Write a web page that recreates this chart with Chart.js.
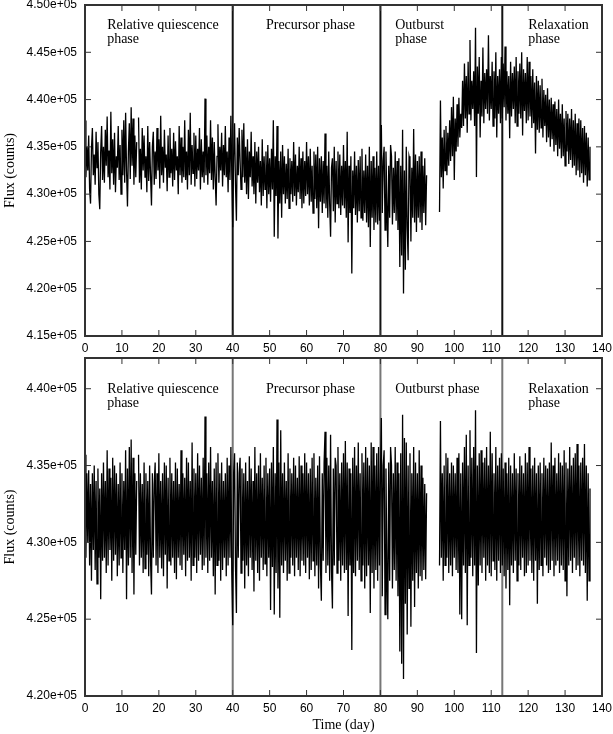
<!DOCTYPE html>
<html>
<head>
<meta charset="utf-8">
<script src="https://cdn.jsdelivr.net/npm/chart.js@4.4.1/dist/chart.umd.min.js"></script>
<style>
  html, body { margin: 0; padding: 0; background: #fff; }
  #wrap { position: relative; width: 613px; height: 734px; }
  canvas { position: absolute; left: 0; }
</style>
</head>
<body>
<div id="wrap">
  <canvas id="topChart" width="613" height="357" style="top:0"></canvas>
  <canvas id="bottomChart" width="613" height="377" style="top:357px"></canvas>
</div>
<script>
// light curve sampling (days)
const startDay = 0;
const cadence = 0.25;
const phaseBounds = [40, 80, 113];
const xTicks = [0, 140, 10];

// flux in units of 100 counts, one value per cadence, null = no data
const fluxRaw = [
  4378,4318,4350,4325, 4362,4305,4290,4348, 4370,4320,4342,4310, 4366,4328,4355,4300, 4284,4345,4372,4315,
  4350,4312,4368,4330, 4382,4318,4346,4305, 4387,4322,4358,4310, 4365,4302,4340,4328, 4372,4315,4352,4300,
  4368,4320,4378,4312, 4386,4325,4287,4345, 4375,4316,4392,4330, 4380,4310,4362,4318, 4355,null,4381,4312,
  4348,4305,4370,4325, 4362,4318,4340,4302, 4372,4314,4355,4320, 4288,4350,4366,4310, 4345,4316,4370,4325,
  4358,4306,4383,4320, 4350,4312,4368,4328, 4342,4303,4362,4318, 4370,4322,4348,4308, 4365,4315,4356,4325,
  4340,4300,4372,4320, 4360,4312,4350,4318, 4378,4315,4345,4305, 4368,4320,4386,4310, 4352,4322,4365,4308,
  4362,4316,4348,4325, 4370,4305,4358,4318, 4345,4312,4401,4320, 4362,4310,4350,4322, 4378,4315,4360,4305,
  4355,4318,4288,4340, 4374,4312,4350,4325, 4365,4308,4352,4320, 4372,4318,4345,4302, 4360,4315,4383,4322,
  // precursor
  4265,4340,4375,4310, 4272,4360,4320,4370, 4335,4305,4368,4318, 4375,4312,4350,4300, 4358,4295,4345,4318,
  4366,4308,4340,4300, 4355,4290,4345,4312, 4350,4302,4335,4288, 4358,4298,4340,4305, 4345,4285,4352,4300,
  4338,4292,4348,4305, 4378,4255,4340,4298, 4372,4253,4335,4290, 4345,4275,4352,4300, 4340,4290,4332,4295,
  4348,4285,4338,4300, 4335,4292,4355,4298, 4342,4288,4330,4302, 4350,4295,4338,4285, 4345,4290,4335,4298,
  4355,4300,4340,4288, 4348,4292,4330,4280, 4345,4295,4342,4285, 4350,4264,4338,4292, 4340,4280,4335,4290,
  4364,4285,4330,4275, 4345,4290,4255,4328, 4338,4282,4350,4270, 4335,4290,4345,4285, 4342,4278,4330,4288,
  4352,4285,4335,4275, 4366,4249,4330,4280, 4340,4216,4325,4285, 4345,4278,4330,4270, 4336,4282,4340,4275,
  4348,4272,4325,4280, 4342,4270,4330,4265, 4350,4244,4335,4275, 4340,4262,4328,4270, 4345,4268,4330,4272,
  // outburst
  4340,4373,4280,4335, 4350,4262,4345,4290, 4244,4330,4275,4352, 4340,4268,4328,4280, 4345,4272,4335,4262,
  4338,4223,4330,4235, 4368,4195,4325,4220, 4350,4265,4230,4340, 4335,4250,4328,4275, 4369,4270,4342,4260,
  4335,4275,4340,4270, 4345,4262,4330,4280, 4338,4267,4320,null, null,null,null,null, null,null,null,null,
  null,null,null,null, 4281,4399,4318,4360, 4306,4368,4325,4372, 4320,4365,4330,4378, 4335,4392,4340,4403,
  4315,4380,4345,4395, 4350,4402,4360,4385, 4370,4420,4372,4438, 4380,4425,4365,4440, 4385,4463,4378,4420,
  4390,4430,4372,4476, 4318,4435,4385,4445, 4360,4420,4382,4455, 4375,4428,4390,4432, 4385,4468,4378,4425,
  4390,4440,4372,4430, 4380,4450,4360,4425, 4385,4432,4375,4445,
  // relaxation
  4380,4438,4392,4456, 4378,4430,4385,4425,
  4359,4440,4382,4428, 4390,4435,4375,4445, 4372,4430,4385,4438, 4380,4450,4362,4432, 4388,4428,4375,4445,
  4378,4440,4382,4425, 4370,4432,4375,4418, 4343,4425,4368,4420, 4365,4415,4370,4422, 4360,4410,4372,4405,
  4355,4412,4360,4400, 4350,4402,4358,4395, 4345,4398,4352,4390, 4340,4400,4348,4385, 4338,4395,4340,4380,
  4330,4388,4345,4385, 4332,4380,4336,4390, 4328,4378,4330,4385, 4320,4375,4325,4380, 4318,4378,4322,4370,
  4312,4372,4320,4365, 4308,4360,4315,4350
];

const fluxDetrended = [
  4357,4290,4345,4300, 4347,4285,4338,4275, 4345,4295,4350,4282, 4340,4273,4348,4290, 4335,4263,4345,4288,
  4352,4290,4340,4280, 4360,4285,4348,4295, 4342,4275,4355,4288, 4350,4292,4345,4278, 4338,4285,4352,4290,
  4345,4280,4340,4295, 4360,4263,4348,4285, 4362,4290,4367,4280, 4355,4266,4345,4292, 4340,null,4357,4285,
  4345,4290,4338,4280, 4352,4283,4345,4292, 4340,4278,4350,4288, 4266,4345,4290,4338, 4352,4285,4345,4280,
  4358,4290,4340,4283, 4345,4278,4352,4292, 4350,4270,4342,4288, 4355,4285,4345,4290, 4340,4280,4352,4276,
  4348,4290,4338,4285, 4360,4282,4345,4292, 4342,4278,4355,4288, 4352,4290,4340,4275, 4365,4285,4348,4290,
  4345,4280,4358,4288, 4350,4292,4342,4282, 4355,4285,4382,4290, 4345,4280,4352,4288, 4362,4290,4340,4278,
  4348,4266,4352,4285, 4358,4288,4345,4275, 4352,4282,4340,4290, 4345,4278,4355,4285, 4350,4290,4362,4280,
  // precursor
  4246,4345,4358,4285, 4254,4352,4290,4345, 4355,4280,4348,4288, 4345,4270,4352,4285, 4340,4278,4356,4290,
  4348,4282,4340,4268, 4362,4288,4345,4280, 4350,4275,4358,4290, 4342,4282,4350,4286, 4355,4278,4345,4290,
  4348,4256,4352,4284, 4362,4253,4345,4280, 4380,4270,4352,4251, 4373,4285,4345,4280, 4352,4288,4340,4275,
  4358,4280,4348,4290, 4345,4285,4355,4278, 4350,4290,4342,4282, 4356,4278,4350,4288, 4345,4285,4358,4280,
  4352,4290,4345,4276, 4348,4282,4355,4288, 4358,4278,4342,4285, 4350,4270,4356,4285, 4262,4345,4288,4352,
  4372,4280,4355,4285, 4350,4275,4370,4282, 4257,4348,4285,4355, 4350,4280,4362,4288, 4345,4275,4352,4285,
  4358,4280,4366,4282, 4352,4252,4348,4285, 4345,4230,4355,4280, 4362,4278,4350,4288, 4365,4282,4345,4275,
  4358,4285,4352,4270, 4362,4278,4355,4285, 4350,4254,4365,4280, 4362,4270,4350,4282, 4358,4275,4362,4285,
  // outburst
  4345,4381,4265,4350, 4360,4253,4348,4282, 4250,4352,4275,4362, 4350,4270,4345,4282, 4362,4275,4352,4265,
  4345,4229,4358,4221, 4383,4211,4368,4260, 4365,4240,4350,4270, 4358,4245,4345,4275, 4362,4258,4352,4280,
  4345,4270,4360,4278, 4350,4275,4342,4282, 4338,4276,4332,null, null,null,null,null, null,null,null,null,
  null,null,null,null, 4285,4379,4290,4345, 4275,4350,4285,4358, 4290,4355,4280,4345, 4285,4352,4278,4350,
  4290,4345,4282,4355, 4280,4358,4253,4345, 4250,4352,4285,4362, 4280,4370,4246,4350, 4285,4373,4290,4355,
  4278,4362,4285,4386, 4228,4350,4272,4358, 4285,4360,4280,4352, 4290,4355,4275,4362, 4285,4350,4280,4372,
  4278,4358,4288,4345, 4282,4362,4275,4350, 4288,4355,4280,4358,
  // relaxation
  4285,4348,4278,4352, 4270,4345,4282,4355,
  4259,4350,4285,4345, 4280,4358,4288,4348, 4275,4345,4285,4356, 4282,4350,4290,4345, 4278,4358,4280,4352,
  4285,4362,4288,4348, 4280,4350,4275,4355, 4288,4345,4260,4350, 4282,4352,4285,4345, 4278,4355,4290,4350,
  4285,4348,4280,4352, 4282,4365,4288,4350, 4278,4355,4285,4345, 4288,4358,4280,4352, 4285,4350,4282,4360,
  4275,4352,4265,4348, 4285,4362,4288,4350, 4280,4355,4290,4358, 4282,4364,4285,4350, 4278,4352,4288,4355,
  4285,4364,4280,4350, 4262,4345,4275,4335
];

// y-axis ranges and tick values (counts)
const topRange = [415000, 450000];
const topTicks = [415000, 420000, 425000, 430000, 435000, 440000, 445000, 450000];
const bottomRange = [420000, 442000];
const bottomTicks = [420000, 425000, 430000, 435000, 440000];

const topLabels = [
  { day: 6, lines: ['Relative quiescence', 'phase'] },
  { day: 49, lines: ['Precursor phase'] },
  { day: 84, lines: ['Outburst', 'phase'] },
  { day: 120, lines: ['Relaxation', 'phase'] }
];
const bottomLabels = [
  { day: 6, lines: ['Relative quiescence', 'phase'] },
  { day: 49, lines: ['Precursor phase'] },
  { day: 84, lines: ['Outburst phase'] },
  { day: 120, lines: ['Relaxation', 'phase'] }
];

const toPoints = arr => arr.map((v, i) => ({
  x: startDay + i * cadence,
  y: v === null ? null : v * 100
}));

const sans = '"Liberation Sans", Arial, sans-serif';
const serif = '"Liberation Serif", "Times New Roman", serif';

const framePlugin = {
  id: 'frame',
  beforeDatasetsDraw(chart, args, opts) {
    const { ctx, chartArea: a, scales: { x } } = chart;
    ctx.save();
    ctx.strokeStyle = opts.phaseColor;
    ctx.lineWidth = opts.phaseWidth;
    phaseBounds.forEach(d => {
      const px = x.getPixelForValue(d);
      ctx.beginPath();
      ctx.moveTo(px, a.top);
      ctx.lineTo(px, a.bottom);
      ctx.stroke();
    });
    ctx.restore();
  },
  afterDraw(chart, args, opts) {
    const { ctx, chartArea: a, scales: { x, y } } = chart;
    ctx.save();
    ctx.strokeStyle = '#333';
    ctx.lineWidth = 1;
    ctx.beginPath();
    x.ticks.forEach(t => {
      const px = x.getPixelForValue(t.value);
      ctx.moveTo(px, a.bottom); ctx.lineTo(px, a.bottom - 6);
      ctx.moveTo(px, a.top); ctx.lineTo(px, a.top + 6);
    });
    y.ticks.forEach(t => {
      const py = y.getPixelForValue(t.value);
      ctx.moveTo(a.left, py); ctx.lineTo(a.left + 6, py);
      ctx.moveTo(a.right, py); ctx.lineTo(a.right - 6, py);
    });
    ctx.stroke();
    ctx.lineWidth = 2;
    ctx.strokeRect(a.left, a.top, a.right - a.left, a.bottom - a.top);

    ctx.fillStyle = '#000';
    ctx.font = '14px ' + serif;
    ctx.textBaseline = 'alphabetic';
    opts.labels.forEach(l => {
      l.lines.forEach((s, i) => {
        ctx.fillText(s, x.getPixelForValue(l.day), y.getPixelForValue(opts.labelFlux[i]));
      });
    });
    ctx.restore();
  }
};

function makeChart(id, flux, range, tickValues, opts) {
  return new Chart(document.getElementById(id), {
    type: 'line',
    data: {
      datasets: [{
        data: toPoints(flux),
        borderColor: '#000',
        borderWidth: 1.3,
        pointRadius: 0,
        tension: 0,
        spanGaps: false
      }]
    },
    options: {
      responsive: false,
      animation: false,
      events: [],
      layout: { padding: { top: opts.padTop, right: 11, bottom: 0, left: 0 } },
      plugins: {
        legend: { display: false },
        tooltip: { enabled: false },
        frame: {
          labels: opts.labels,
          labelFlux: opts.labelFlux,
          phaseColor: opts.phaseColor,
          phaseWidth: 2
        }
      },
      scales: {
        x: {
          type: 'linear',
          min: xTicks[0],
          max: xTicks[1],
          grid: { display: false, drawTicks: false },
          border: { display: false },
          ticks: {
            stepSize: xTicks[2],
            padding: 5,
            maxRotation: 0,
            color: '#000',
            font: { family: sans, size: 12 }
          },
          title: {
            display: !!opts.xTitle,
            text: opts.xTitle || '',
            color: '#000',
            font: { family: serif, size: 14 },
            padding: { top: 2, bottom: 0 }
          },
          afterFit: s => {
            s.height = opts.xHeight;
            s.paddingLeft = 0;
            s.paddingRight = 0;
          }
        },
        y: {
          min: range[0],
          max: range[1],
          grid: { display: false, drawTicks: false },
          border: { display: false },
          afterBuildTicks: s => {
            s.ticks = tickValues.map(v => ({ value: v }));
          },
          ticks: {
            padding: 8,
            color: '#000',
            font: { family: sans, size: 12 },
            callback: v => (v / 1e5).toFixed(2) + 'e+05'
          },
          title: {
            display: true,
            text: 'Flux (counts)',
            color: '#000',
            font: { family: serif, size: 14 },
            padding: { top: 2, bottom: 0 }
          },
          afterFit: s => {
            s.width = 85;
            s.paddingTop = 0;
            s.paddingBottom = 0;
          }
        }
      }
    },
    plugins: [framePlugin]
  });
}

makeChart('topChart', fluxRaw, topRange, topTicks, {
  padTop: 5,
  xHeight: 21,
  labels: topLabels,
  labelFlux: [447430, 446030],
  phaseColor: '#111'
});

makeChart('bottomChart', fluxDetrended, bottomRange, bottomTicks, {
  padTop: 1,
  xHeight: 38,
  xTitle: 'Time (day)',
  labels: bottomLabels,
  labelFlux: [439700, 438830],
  phaseColor: '#777'
});
</script>
</body>
</html>
